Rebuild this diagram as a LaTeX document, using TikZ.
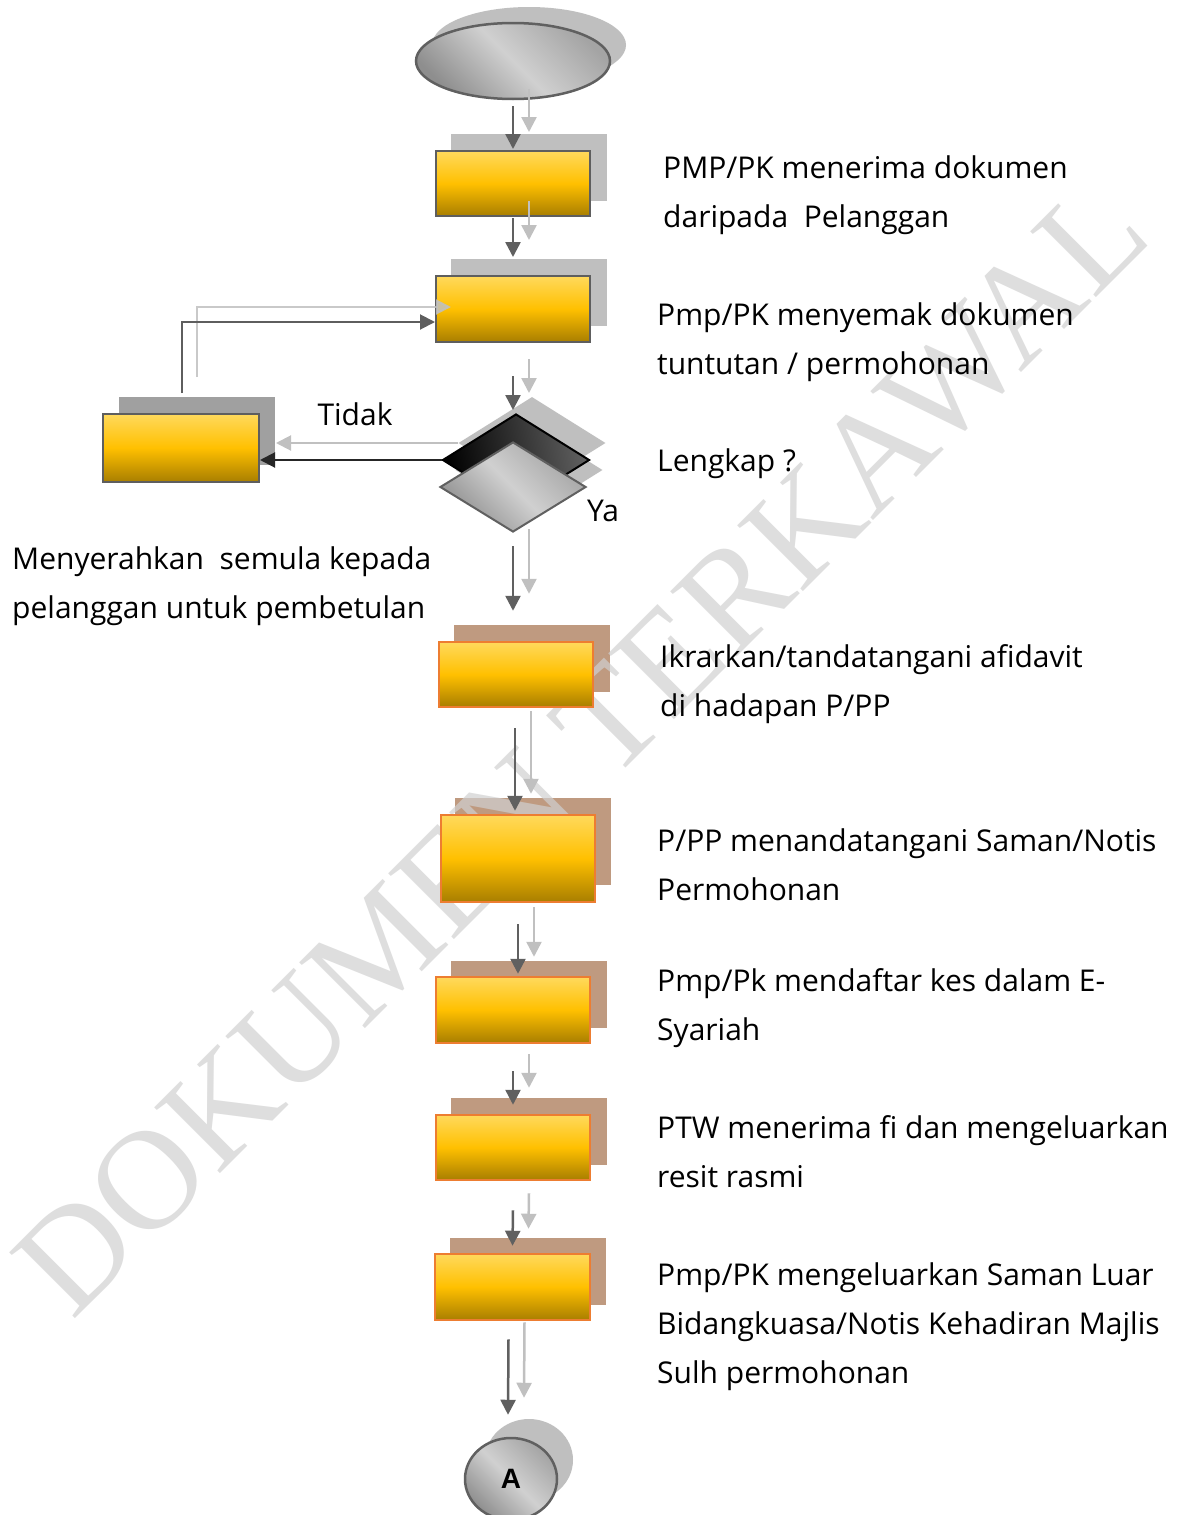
\documentclass[tikz,border=0pt]{standalone}
\usepackage{fontspec}
\setmainfont{Open Sans}
\newfontfamily\wmfont{Liberation Serif}
\newfontfamily\afont{Liberation Sans}
\usetikzlibrary{shapes.geometric,arrows.meta}
\definecolor{dkc}{HTML}{606060}
\definecolor{ltc}{HTML}{C0C0C0}
\definecolor{boxtop}{HTML}{FFD95C}
\definecolor{boxmid}{HTML}{FFC000}
\definecolor{boxbot}{HTML}{A87E00}
\definecolor{greyb}{HTML}{5E5E5E}
\definecolor{orangeb}{HTML}{ED7D31}
\definecolor{shadgrey}{HTML}{BFBFBF}
\definecolor{shaddark}{HTML}{A0A0A0}
\definecolor{shadbrown}{HTML}{BF9A80}
\definecolor{wmc}{HTML}{D0D0D0}
\definecolor{gdark}{HTML}{8E8E8E}
\definecolor{glight}{HTML}{D0D0D0}
\definecolor{gmid}{HTML}{A4A4A4}
\tikzset{
  box/.style={rectangle, minimum width=154pt, minimum height=65pt, inner sep=0pt,
    line width=2pt, top color=boxtop, bottom color=boxbot, middle color=boxmid},
  gbox/.style={box, draw=greyb},
  obox/.style={box, draw=orangeb, line width=2.5pt},
  shadbox/.style={rectangle, minimum width=156pt, minimum height=67pt, inner sep=0pt},
  greyshade/.style={shading=axis, left color=gdark, right color=gmid, middle color=glight, shading angle=135},
  dk/.style={draw=dkc, line width=2.5pt, -{Triangle[length=15pt,width=15pt]}},
  lt/.style={draw=ltc, line width=2.5pt, -{Triangle[length=15pt,width=15pt]}},
  lbl/.style={anchor=base west, inner sep=0pt, font=\fontsize{30}{36}\selectfont},
  clbl/.style={inner sep=0pt, font=\fontsize{30}{36}\selectfont},
}
\newcommand\twoarrows[2]{%
  \draw[lt] ([xshift=16pt,yshift=17pt]#1) -- ([xshift=16pt,yshift=17pt]#2);
  \draw[dk] (#1) -- (#2);}
\begin{document}
\begin{tikzpicture}[x=1pt,y=-1pt]
\useasboundingbox[fill=white] (0,0) rectangle (1181,1515);

% shadows
\node[ellipse, fill=shadgrey, minimum width=194pt, minimum height=76pt] (sts) at (529,45) {};
\node[shadbox, fill=shadgrey] (b1s) at (529,167.5) {};
\node[shadbox, fill=shadgrey] (b2s) at (529,292.5) {};
\node[shadbox, fill=shaddark, minimum height=68pt] (ls) at (196.5,431) {};
\node[diamond, fill=shadgrey, minimum width=147pt, minimum height=92pt, inner sep=0pt] (dds) at (532,443) {};
\node[diamond, fill=shadgrey, minimum width=147pt, minimum height=92pt, inner sep=0pt] (ds) at (529,470) {};
\node[shadbox, fill=shadbrown] (b3s) at (532,658.5) {};
\node[shadbox, fill=shadbrown, minimum height=87pt] (b4s) at (533,841.5) {};
\node[shadbox, fill=shadbrown] (b5s) at (529,994) {};
\node[shadbox, fill=shadbrown] (b6s) at (529,1131) {};
\node[shadbox, fill=shadbrown] (b7s) at (528,1271) {};
\node[ellipse, fill=shadgrey, minimum width=88pt, minimum height=82pt] (as) at (529,1460) {};

% watermark
\node[rotate=45, anchor=base west, inner sep=0pt, text=wmc, opacity=0.7,
  font=\wmfont\fontsize{142}{142}\selectfont] (wm) at (72,1322) {DOKUMEN TERKAWAL};

% start ellipse
\node[ellipse, draw=dkc, line width=2.5pt, minimum width=194pt, minimum height=76pt, greyshade] (st) at (513,61) {};

% boxes 1, 2
\node[gbox] (b1) at (513,183.5) {};
\node[gbox, minimum height=66pt] (b2) at (513,309) {};

% left box
\node[gbox, minimum width=156pt, minimum height=68pt] (lb) at (181,448) {};

% diamonds
\node[diamond, draw=black, line width=2pt, minimum width=147pt, minimum height=92pt, inner sep=0pt,
  shading=axis, left color=black, right color=gray!75!black, shading angle=100] (dd) at (516,460) {};
\node[diamond, draw=dkc, line width=2pt, minimum width=146pt, minimum height=90pt, inner sep=0pt,
  greyshade] (d) at (513,487) {};

% boxes 3-7
\node[obox] (b3) at (516,674.5) {};
\node[obox, minimum height=87pt] (b4) at (518,858.5) {};
\node[obox, minimum height=66pt] (b5) at (513,1010) {};
\node[obox] (b6) at (513,1147.5) {};
\node[obox, minimum width=155pt, minimum height=66pt] (b7) at (512.5,1287) {};

% connector A
\node[ellipse, draw=dkc, line width=2.5pt, minimum width=92pt, minimum height=82pt, greyshade,
  font=\afont\bfseries\fontsize{28}{30}\selectfont] (a) at (511,1479) {A};

% arrow end points
\coordinate (s1) at ([yshift=-6pt]st.south);
\coordinate (e1) at ([yshift=1pt]b1.north);
\coordinate (s2) at ([yshift=-1pt]b1.south);
\coordinate (e2) at ([yshift=18pt]b2.north);
\coordinate (s3) at ([yshift=-33pt]b2.south);
\coordinate (e3) at ([yshift=31pt]d.north);
\coordinate (s4) at ([yshift=-13pt]d.south);
\coordinate (e4) at ([xshift=-3pt,yshift=30pt]b3.north);
\coordinate (s5) at ([xshift=-1pt,yshift=-20pt]b3.south);
\coordinate (e5) at ([xshift=-3pt,yshift=3pt]b4.north);
\coordinate (s6) at ([yshift=-21pt]b4.south);
\coordinate (e6) at ([xshift=5pt,yshift=2pt]b5.north);
\coordinate (s7) at ([yshift=-27pt]b5.south);
\coordinate (e7) at ([yshift=9pt]b6.north);
\coordinate (s8) at ([yshift=-29pt]b6.south);
\coordinate (e8) at ([yshift=7pt]b7.north);
\coordinate (s9) at ([xshift=-4pt,yshift=-18pt]b7.south);
\coordinate (e9) at ([xshift=-3pt,yshift=22pt]a.north);

\twoarrows{s1}{e1}
\twoarrows{s2}{e2}
\twoarrows{s3}{e3}
\twoarrows{s4}{e4}
\twoarrows{s5}{e5}
\twoarrows{s6}{e6}
\twoarrows{s7}{e7}
\twoarrows{s8}{e8}
\twoarrows{s9}{e9}

% feedback loop
\coordinate (fbs) at ([xshift=1pt,yshift=20pt]lb.north);
\coordinate (fbe) at ([yshift=-13pt]b2.west);
\draw[ltc, line width=2pt, -{Triangle[length=15pt,width=15pt]}, opacity=0.85]
  ([xshift=15pt,yshift=16pt]fbs) |- ([xshift=16pt,yshift=15pt]fbe);
\draw[draw=greyb, line width=2pt, -{Triangle[length=15pt,width=15pt]}] (fbs) |- (fbe);

% Tidak arrow
\coordinate (te) at ([yshift=-12pt]lb.east);
\draw[ltc, line width=2pt, -{Triangle[length=15pt,width=15pt]}]
  ([xshift=16pt,yshift=17pt]dd.west) -- ([xshift=16pt,yshift=17pt]te);
\draw[black!85, line width=2pt, -{Triangle[length=15pt,width=15pt]}] (dd.west) -- (te);

% labels
\node[lbl] (t1a) at (663,178) {PMP/PK menerima dokumen};
\node[lbl] (t1b) at (663,227) {daripada\ \ Pelanggan};
\node[lbl] (t2a) at (657,325) {Pmp/PK menyemak dokumen};
\node[lbl] (t2b) at (657,374) {tuntutan / permohonan};
\node[lbl] (t3) at (657,471) {Lengkap ?};
\node[clbl] (ya) at (603,511) {Ya};
\node[clbl] (tidak) at (355,414) {Tidak};
\node[lbl] (t4a) at (12,569) {Menyerahkan\ \ semula kepada};
\node[lbl] (t4b) at (12,618) {pelanggan untuk pembetulan};
\node[lbl] (t5a) at (660,667) {Ikrarkan/tandatangani afidavit};
\node[lbl] (t5b) at (660,716) {di hadapan P/PP};
\node[lbl] (t6a) at (657,851) {P/PP menandatangani Saman/Notis};
\node[lbl] (t6b) at (657,900) {Permohonan};
\node[lbl] (t7a) at (657,991) {Pmp/Pk mendaftar kes dalam E-};
\node[lbl] (t7b) at (657,1040) {Syariah};
\node[lbl] (t8a) at (657,1138) {PTW menerima fi dan mengeluarkan};
\node[lbl] (t8b) at (657,1187) {resit rasmi};
\node[lbl] (t9a) at (657,1285) {Pmp/PK mengeluarkan Saman Luar};
\node[lbl] (t9b) at (657,1334) {Bidangkuasa/Notis Kehadiran Majlis};
\node[lbl] (t9c) at (657,1383) {Sulh permohonan};
\end{tikzpicture}
\end{document}
